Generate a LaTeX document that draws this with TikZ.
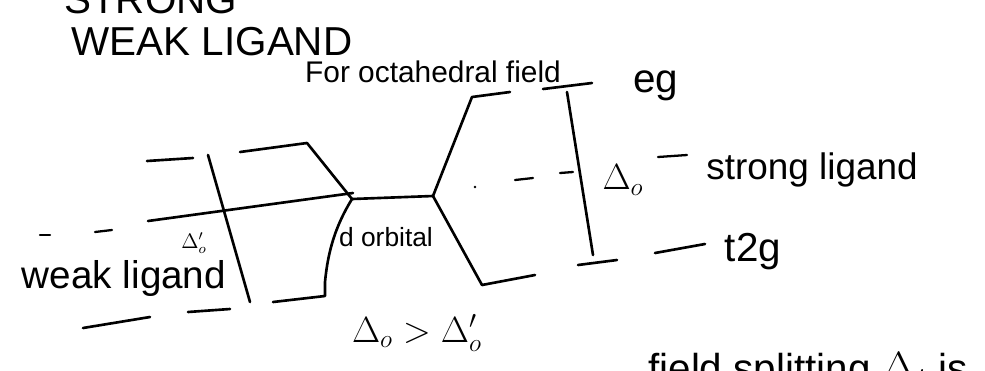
\documentclass[tikz,border=0pt]{standalone}
\usepackage{fontspec}
\setmainfont{Liberation Sans}
\usetikzlibrary{positioning}
\tikzset{
  lvl/.style={line width=1.5pt,line cap=round,line join=round,draw=black},
  tick/.style={line width=1.3pt,line cap=round,draw=black},
  note/.style={inner sep=0pt,text=black},
  bigtext/.style={note,font=\fontsize{23}{26}\selectfont},
  midtext/.style={note,font=\fontsize{17}{20}\selectfont}
}

\begin{document}
\begin{tikzpicture}[x=0.02cm,y=-0.02cm]
\useasboundingbox (0,0) rectangle (985,370);
% titles
\node[bigtext,anchor=base west] (strongTitle) at (64,13) {STRONG};
\node[bigtext] (weakTitle) at (212,42) {WEAK LIGAND};
\node[midtext] (octa) at (433,72) {For octahedral field};
% free d orbital
\coordinate (dL) at (352,199);
\coordinate (dR) at (433,196);
\draw[lvl] (dL) -- (dR);
\node[note,font=\fontsize{15}{17}\selectfont] (dlabel) at (386,237) {d orbital};
% weak ligand side
\coordinate (wEg) at (240,152);
\coordinate (wT) at (273,302);
\draw[lvl] (wEg) -- (307,143) -- (dL);
\draw[lvl] (wT) -- (325,296) -- (325,282) .. controls (328,250) and (336,225) .. (dL);
\draw[lvl] (147,161) -- (193,158);
\draw[lvl] (148,221) -- (353,193);
\draw[tick] (40,235) -- (50,235);
\draw[tick] (95,232) -- (112,230);
\draw[lvl] (83,328) -- (150,317);
\draw[lvl] (188,312) -- (230,309);
\draw[lvl] (208,155) -- (250,302);
\node[note,font=\fontsize{12}{14}\selectfont] (dWeak) at (194,243) {$\Delta'_{o}$};
\node[bigtext,font=\fontsize{22}{24}\selectfont] (weakLabel) at (124,278) {weak ligand};
% strong ligand side
\coordinate (sEg) at (510,92);
\coordinate (sT) at (535,275);
\draw[lvl] (dR) -- (472,97) -- (sEg);
\draw[lvl] (dR) -- (482,285) -- (sT);
\draw[lvl] (543,89) -- (592,83);
\draw[lvl] (567,92) -- (593,255);
\draw[lvl] (578,265) -- (617,260);
\fill (475,187) circle (1.3);
\draw[tick] (515,180) -- (533,178);
\draw[tick] (560,173) -- (573,172);
\draw[tick] (658,157) -- (687,155);
\draw[lvl] (655,253) -- (705,244);
\node[note,font=\fontsize{22}{24}\selectfont] (dStrong) at (623,180) {$\Delta_{o}$};
\node[bigtext,font=\fontsize{21}{24}\selectfont] (strongLabel) at (812,170) {strong ligand};
\node[bigtext] (eg) at (656,86) {eg};
\node[bigtext] (t2g) at (753,252) {t2g};
% comparison
\node[note,font=\fontsize{20}{22}\selectfont] (cmp) at (417,333) {$\Delta_{o} > \Delta'_{o}$};
\node[bigtext,anchor=base west] (bottomLine) at (648,382) {field splitting $\Delta_{t}$ is};
\end{tikzpicture}
\end{document}
